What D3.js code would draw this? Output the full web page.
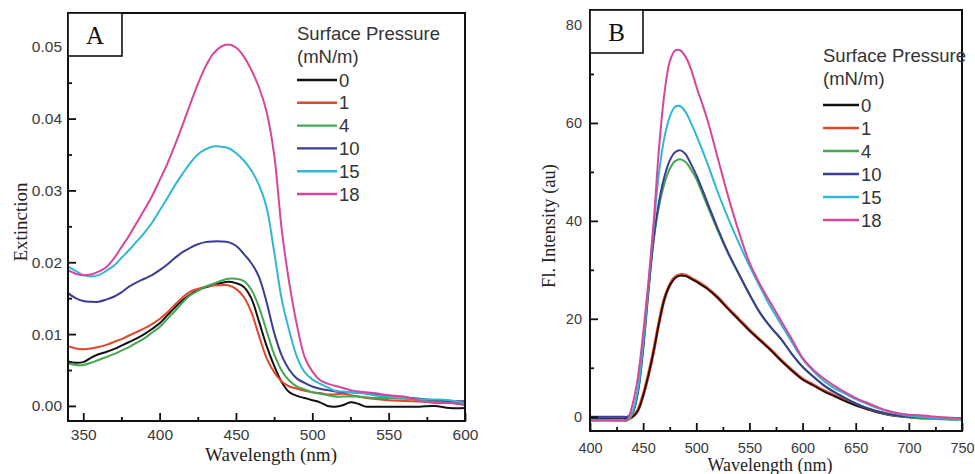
<!DOCTYPE html>
<html>
<head>
<meta charset="utf-8">
<script src="https://cdn.jsdelivr.net/npm/d3@7"></script>
<style>
  html, body { margin: 0; padding: 0; background: #fff; }
  svg { display: block; }
</style>
</head>
<body>
<svg id="chart" width="975" height="474"></svg>
<script>
// ---------------- DATA ----------------
const pressures = ["0", "1", "4", "10", "15", "18"];
const seriesColors = ["#111111", "#e5452a", "#43a851", "#3b3c94", "#30b6d6", "#d6469a"];

// Panel A: extinction spectra
const wavelengthA = [340,345,350,355,360,365,370,375,380,385,390,395,400,405,410,415,420,425,430,435,440,445,450,455,460,465,470,475,480,485,490,495,500,505,510,515,520,525,530,535,540,550,560,570,580,590,600];
const extA_0  = [0.0062,0.0060,0.0061,0.0067,0.0072,0.0075,0.0079,0.0084,0.0089,0.0094,0.0100,0.0107,0.0115,0.0126,0.0137,0.0147,0.0155,0.0161,0.0165,0.0168,0.0171,0.0173,0.0171,0.0166,0.0150,0.0118,0.0084,0.0056,0.0033,0.0019,0.0014,0.0011,0.0008,0.0005,0.0000,-0.0001,0.0001,0.0005,0.0003,-0.0001,-0.0001,-0.0001,-0.0001,-0.0001,0.0000,-0.0003,-0.0003];
const extA_1  = [0.0083,0.0080,0.0079,0.0080,0.0082,0.0085,0.0089,0.0093,0.0098,0.0103,0.0108,0.0114,0.0121,0.0130,0.0141,0.0151,0.0159,0.0163,0.0166,0.0168,0.0168,0.0168,0.0163,0.0152,0.0131,0.0098,0.0067,0.0047,0.0034,0.0027,0.0024,0.0021,0.0019,0.0018,0.0016,0.0016,0.0017,0.0015,0.0013,0.0011,0.0010,0.0008,0.0007,0.0006,0.0005,0.0004,0.0004];
const extA_4  = [0.0059,0.0057,0.0057,0.0060,0.0064,0.0068,0.0072,0.0077,0.0082,0.0088,0.0094,0.0102,0.0110,0.0121,0.0132,0.0144,0.0154,0.0160,0.0166,0.0170,0.0174,0.0177,0.0177,0.0174,0.0162,0.0138,0.0105,0.0072,0.0049,0.0035,0.0027,0.0023,0.0019,0.0017,0.0015,0.0013,0.0013,0.0013,0.0013,0.0012,0.0011,0.0011,0.0010,0.0009,0.0008,0.0007,0.0006];
const extA_10 = [0.0157,0.0150,0.0146,0.0145,0.0145,0.0148,0.0152,0.0158,0.0166,0.0172,0.0177,0.0182,0.0189,0.0197,0.0206,0.0214,0.0220,0.0225,0.0228,0.0229,0.0229,0.0228,0.0223,0.0212,0.0199,0.0180,0.0145,0.0102,0.0070,0.0050,0.0038,0.0032,0.0027,0.0024,0.0022,0.0020,0.0019,0.0019,0.0018,0.0018,0.0017,0.0014,0.0012,0.0010,0.0008,0.0007,0.0006];
const extA_15 = [0.0194,0.0188,0.0182,0.0180,0.0182,0.0188,0.0195,0.0206,0.0217,0.0229,0.0241,0.0255,0.0272,0.0289,0.0307,0.0323,0.0338,0.0350,0.0357,0.0361,0.0361,0.0359,0.0352,0.0342,0.0328,0.0308,0.0277,0.0215,0.0148,0.0104,0.0068,0.0047,0.0037,0.0031,0.0026,0.0021,0.0020,0.0019,0.0018,0.0017,0.0015,0.0013,0.0011,0.0009,0.0009,0.0008,0.0004];
const extA_18 = [0.0189,0.0184,0.0182,0.0183,0.0187,0.0193,0.0205,0.0221,0.0237,0.0255,0.0273,0.0292,0.0314,0.0337,0.0363,0.0391,0.0420,0.0448,0.0472,0.0490,0.0500,0.0503,0.0499,0.0487,0.0468,0.0444,0.0410,0.0350,0.0245,0.0170,0.0112,0.0068,0.0048,0.0036,0.0031,0.0028,0.0025,0.0022,0.0020,0.0019,0.0018,0.0015,0.0013,0.0007,0.0004,0.0004,0.0001];

// Panel B: fluorescence spectra
const wavelengthB = [400,410,420,430,435,440,445,450,455,460,465,470,475,480,485,490,495,500,510,520,530,540,550,560,570,580,590,600,610,620,630,640,650,660,670,680,690,700,710,720,730,740,750];
const flB_0  = [-0.4,-0.4,-0.4,-0.4,-0.4,0.0,1.2,4.3,8.5,13.5,19.2,24.0,26.8,28.3,28.8,28.7,28.2,27.6,26.2,24.3,22.0,19.8,17.6,15.6,13.6,11.4,9.4,7.6,6.4,5.2,4.2,3.2,2.3,1.6,0.9,0.4,0.1,-0.1,-0.2,-0.3,-0.3,-0.4,-0.4];
const flB_1  = [-0.5,-0.5,-0.5,-0.5,-0.5,0.0,1.3,4.4,8.6,13.6,19.3,24.1,26.9,28.5,29.0,28.9,28.3,27.7,26.3,24.4,22.1,19.9,17.7,15.7,13.7,11.5,9.5,7.7,6.5,5.3,4.3,3.3,2.4,1.7,1.0,0.5,0.2,0.0,-0.2,-0.3,-0.3,-0.4,-0.4];
const flB_4  = [-0.8,-0.8,-0.8,-0.8,-0.8,0.6,4.8,13.6,25.5,36.2,43.0,47.6,50.6,52.2,52.6,52.0,50.5,48.6,43.3,38.1,33.3,29.1,25.0,21.2,18.3,15.8,12.8,10.2,8.2,6.4,5.0,3.8,2.7,1.8,1.1,0.5,0.1,-0.1,-0.3,-0.4,-0.5,-0.6,-0.6];
const flB_10 = [0.0,0.0,0.0,0.0,0.0,0.8,5.0,14.0,25.8,36.5,44.0,49.0,52.3,54.0,54.4,53.6,51.6,49.4,44.0,38.5,33.5,29.2,25.0,21.2,18.3,15.8,12.8,10.2,8.2,6.4,5.0,3.8,2.7,1.8,1.1,0.6,0.2,0.0,-0.1,-0.2,-0.3,-0.3,-0.4];
const flB_15 = [-0.6,-0.6,-0.6,-0.6,-0.6,1.0,5.5,15.0,27.0,39.0,50.0,57.0,61.2,63.3,63.4,62.2,60.0,57.5,52.0,46.0,40.5,35.5,30.8,26.5,22.4,18.8,15.2,11.8,9.3,7.3,5.8,4.7,3.6,2.7,1.8,1.1,0.6,0.2,0.0,-0.2,-0.3,-0.4,-0.5];
const flB_18 = [-0.8,-0.8,-0.8,-0.8,-0.6,2.5,8.0,17.0,27.5,40.0,55.0,66.0,72.5,74.8,74.8,73.5,71.0,67.5,61.0,53.0,45.0,37.8,31.5,27.0,23.2,19.5,15.8,12.0,9.6,7.8,6.3,5.0,3.8,2.9,2.0,1.2,0.7,0.4,0.3,0.1,-0.1,-0.2,-0.3];

const xTicksA = [350,400,450,500,550,600];
const xMinorA = [375,425,475,525,575];
const yTicksA = [0,0.01,0.02,0.03,0.04,0.05];
const yMinorA = [0.005,0.015,0.025,0.035,0.045];
const xTicksB = [400,450,500,550,600,650,700,750];
const xMinorB = [425,475,525,575,625,675,725];
const yTicksB = [0,20,40,60,80];
const yMinorB = [10,30,50,70];

// ---------------- DRAWING ----------------
const svg = d3.select("#chart");
svg.append("rect").attr("width",975).attr("height",474).attr("fill","#fff");

const SANS = "'Liberation Sans', Arial, sans-serif";
const SERIF = "'Liberation Serif', 'Times New Roman', serif";

function panel(cfg) {
  const g = svg.append("g");
  const x = d3.scaleLinear().domain(cfg.xDomain).range([cfg.left, cfg.right]);
  const y = d3.scaleLinear().domain(cfg.yDomain).range([cfg.bottom, cfg.top]);

  const clipId = "clip" + cfg.name;
  svg.append("clipPath").attr("id", clipId).append("rect")
    .attr("x", cfg.left).attr("y", cfg.top)
    .attr("width", cfg.right - cfg.left).attr("height", cfg.bottom - cfg.top);

  const line = d3.line().x(d => x(d[0])).y(d => y(d[1])).curve(d3.curveCatmullRom.alpha(0.5));
  const lg = g.append("g").attr("clip-path", `url(#${clipId})`);
  cfg.order.forEach(i => {
    const pts = cfg.wl.map((w, k) => [w, cfg.series[i][k]]);
    lg.append("path").attr("d", line(pts)).attr("fill","none")
      .attr("stroke", seriesColors[i])
      .attr("stroke-width", cfg.widths ? cfg.widths[i] : 2)
      .attr("stroke-linejoin","round");
  });

  const xAxis = d3.axisBottom(x).tickValues(cfg.xTicks).tickSize(-8).tickPadding(cfg.xPad).tickFormat(d3.format("d"));
  const xMin = d3.axisBottom(x).tickValues(cfg.xMinor).tickSize(-4).tickFormat("");
  const yAxis = d3.axisLeft(y).tickValues(cfg.yTicks).tickSize(-8).tickPadding(cfg.yPad).tickFormat(cfg.yFmt);
  const yMin = d3.axisLeft(y).tickValues(cfg.yMinor).tickSize(-4).tickFormat("");

  [ [xAxis, `translate(0,${cfg.bottom})`], [xMin, `translate(0,${cfg.bottom})`],
    [yAxis, `translate(${cfg.left},0)`], [yMin, `translate(${cfg.left},0)`] ].forEach(([ax, tr]) => {
    const a = g.append("g").attr("transform", tr).call(ax);
    a.select(".domain").remove();
    a.selectAll(".tick line").attr("stroke","#111").attr("stroke-width",1.8);
    a.selectAll(".tick text").attr("font-family", SANS).attr("font-size", cfg.tickFont).attr("fill","#3a3a3a");
  });

  g.append("rect").attr("x", cfg.left).attr("y", cfg.top)
    .attr("width", cfg.right - cfg.left).attr("height", cfg.bottom - cfg.top)
    .attr("fill","none").attr("stroke","#111").attr("stroke-width",2);

  g.append("rect").attr("x", cfg.left).attr("y", cfg.top)
    .attr("width", cfg.boxW).attr("height", cfg.boxH)
    .attr("fill","#fff").attr("stroke","#111").attr("stroke-width",1.6);
  g.append("text").attr("x", cfg.left + cfg.boxW/2).attr("y", cfg.top + cfg.boxH/2 + 9)
    .attr("text-anchor","middle").attr("font-family", SERIF).attr("font-size", 25)
    .attr("fill","#111").text(cfg.name);

  g.append("text").attr("x", cfg.xTitleX).attr("y", cfg.xTitleY).attr("text-anchor","middle")
    .attr("font-family", SERIF).attr("font-size", cfg.xTitleFont).attr("fill","#222")
    .text("Wavelength (nm)");
  g.append("text").attr("transform", `translate(${cfg.yTitleX},${cfg.yTitleY}) rotate(-90)`)
    .attr("text-anchor","middle").attr("font-family", SERIF).attr("font-size", cfg.yTitleFont).attr("fill","#222")
    .text(cfg.yTitle);

  const L = cfg.legend;
  g.append("text").attr("x", L.x).attr("y", L.y0).attr("font-family", SANS).attr("font-size", 18.5)
    .attr("fill","#333").text("Surface Pressure");
  g.append("text").attr("x", L.x).attr("y", L.y0 + 23).attr("font-family", SANS).attr("font-size", 18.5)
    .attr("fill","#333").text("(mN/m)");
  pressures.forEach((p, i) => {
    const cy = L.row0 + i * L.dy;
    g.append("line").attr("x1", L.x).attr("x2", L.x + L.len).attr("y1", cy).attr("y2", cy)
      .attr("stroke", seriesColors[i]).attr("stroke-width", 2.4);
    g.append("text").attr("x", L.x + L.len + 2).attr("y", cy + 6.5)
      .attr("font-family", SANS).attr("font-size", 18.5).attr("fill","#333").text(p);
  });
}

panel({
  name: "A", left: 68, right: 465, top: 13, bottom: 421,
  xDomain: [340, 600], yDomain: [-0.0021, 0.0547],
  wl: wavelengthA, series: [extA_0, extA_1, extA_4, extA_10, extA_15, extA_18],
  order: [0,1,2,3,4,5],
  xTicks: xTicksA, xMinor: xMinorA, yTicks: yTicksA, yMinor: yMinorA,
  yFmt: d3.format(".2f"), xPad: 8, yPad: 6, tickFont: 15.5,
  boxW: 54, boxH: 43,
  xTitleX: 271, xTitleY: 461, xTitleFont: 19,
  yTitleX: 27, yTitleY: 222, yTitleFont: 19, yTitle: "Extinction",
  legend: { x: 297, y0: 40, row0: 80, dy: 22.8, len: 40 }
});

panel({
  name: "B", left: 590, right: 962, top: 10, bottom: 431,
  xDomain: [400, 750], yDomain: [-2.92, 83.07],
  wl: wavelengthB, series: [flB_0, flB_1, flB_4, flB_10, flB_15, flB_18],
  order: [1,0,2,3,4,5], widths: [1.7, 3.2, 2, 2, 2, 2],
  xTicks: xTicksB, xMinor: xMinorB, yTicks: yTicksB, yMinor: yMinorB,
  yFmt: d3.format("d"), xPad: 12, yPad: 8, tickFont: 14.5,
  boxW: 53, boxH: 43,
  xTitleX: 770, xTitleY: 471, xTitleFont: 18,
  yTitleX: 555, yTitleY: 226, yTitleFont: 18.5, yTitle: "Fl. Intensity (au)",
  legend: { x: 823, y0: 62, row0: 105, dy: 23, len: 36 }
});
</script>
</body>
</html>
